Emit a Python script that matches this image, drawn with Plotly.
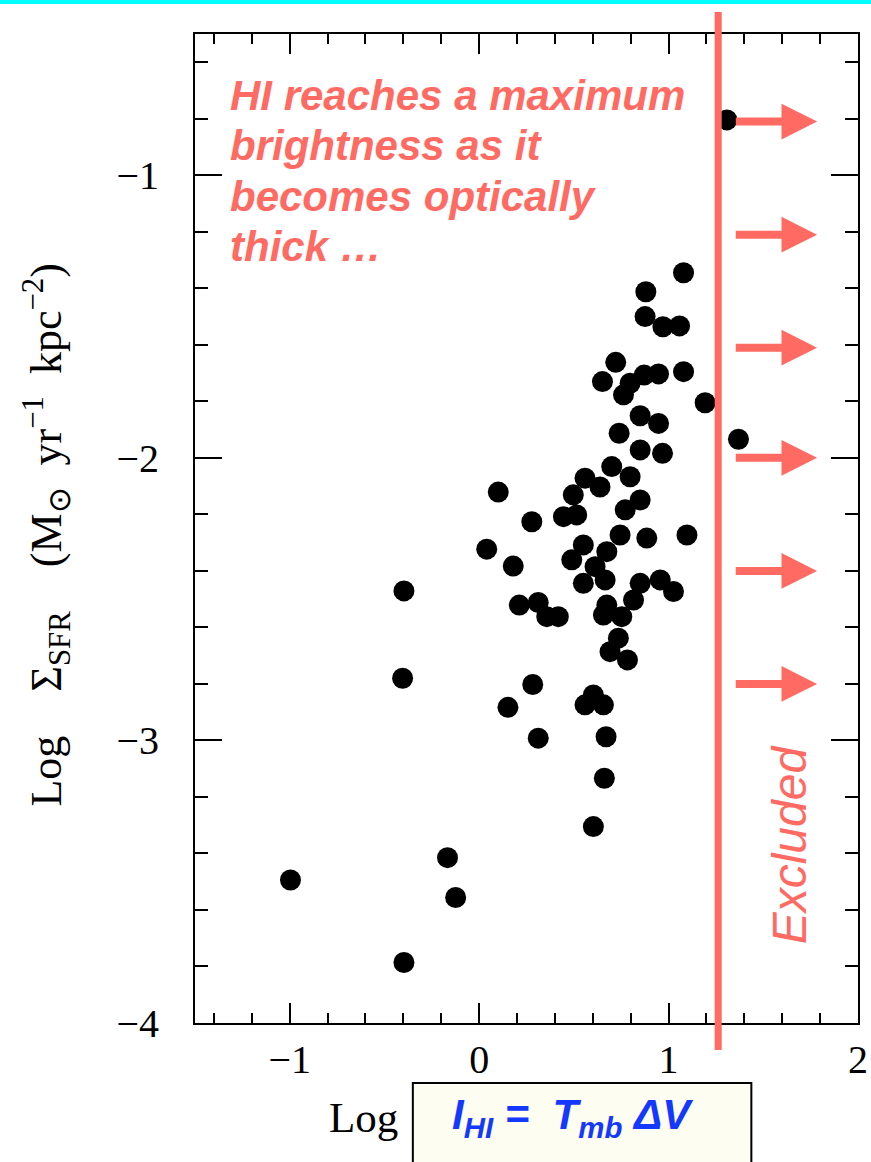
import plotly.graph_objects as go

# Log I_HI (x) and Log Sigma_SFR (y) for each region
log_ihi = [
    1.308, 1.079, 0.880, 0.876, 0.970, 1.058, 0.721, 0.651, 1.079, 0.947,
    0.871, 0.797, 0.762, 1.193, 1.369, 0.850, 0.947, 0.739, 0.850, 0.968,
    0.700, 0.797, 0.559, 0.101, 0.497, 0.638, 0.850, 0.771, 0.445, 0.515,
    0.278, 0.885, 0.744, 1.097, 0.040, 0.180, 0.550, 0.489, 0.674, 0.612,
    0.550, 0.665, 0.850, 0.956, 1.026, 0.815, 0.212, 0.312, 0.357, 0.418,
    0.674, 0.656, 0.753, 0.735, 0.691, 0.783, 0.283, 0.152, 0.559, 0.603,
    0.656, 0.312, 0.670, 0.661, 0.603, -0.397, -0.404, -0.996, -0.167, -0.124,
    -0.397,
]
log_sfr = [
    -0.804, -1.345, -1.412, -1.500, -1.536, -1.533, -1.662, -1.730, -1.695, -1.703,
    -1.707, -1.736, -1.777, -1.805, -1.934, -1.851, -1.878, -1.913, -1.972, -1.984,
    -2.031, -2.067, -2.072, -2.121, -2.131, -2.103, -2.149, -2.184, -2.208, -2.202,
    -2.226, -2.284, -2.273, -2.273, -2.323, -2.383, -2.308, -2.361, -2.332, -2.385,
    -2.444, -2.432, -2.444, -2.432, -2.473, -2.503, -2.521, -2.512, -2.562, -2.562,
    -2.521, -2.556, -2.562, -2.638, -2.686, -2.715, -2.802, -2.883, -2.874, -2.839,
    -2.874, -2.992, -2.987, -3.134, -3.305, -2.471, -2.780, -3.494, -3.415, -3.556,
    -3.786,
]

# optically-thick cut-off and the "excluded" arrows beyond it
cutoff_log_ihi = 1.262
arrow_levels = [-0.81, -1.21, -1.61, -2.00, -2.40, -2.80]
arrow_from, arrow_to = 1.347, 1.784

note_lines = ["HI reaches a maximum", "brightness as it", "becomes optically", "thick \u2026"]

SALMON = "#FF6A62"
BLUE = "#1538FF"
SERIF = "Liberation Serif, Times New Roman, serif"
SANS = "Liberation Sans, Arial, sans-serif"
NB = "\u00a0"

fig = go.Figure()
fig.add_trace(go.Scatter(
    x=log_ihi, y=log_sfr, mode="markers",
    marker=dict(size=21, color="black", line=dict(width=0)),
    showlegend=False, hoverinfo="skip", cliponaxis=False,
))

axis_common = dict(
    showline=True, linecolor="black", linewidth=2, mirror="allticks",
    ticks="inside", tickcolor="black", tickwidth=1.6,
    showgrid=False, zeroline=False, automargin=False,
    tickfont=dict(family=SERIF, size=40, color="black"),
    tickmode="linear", tick0=0, dtick=1,
)
fig.update_xaxes(
    range=[-1.5, 2], ticklen=20, ticklabelstandoff=0,
    minor=dict(tickmode="linear", tick0=0, dtick=0.2, ticks="inside", ticklen=10,
               tickcolor="black", tickwidth=1.6, showgrid=False),
    **axis_common,
)
fig.update_yaxes(
    range=[-4, -0.5], ticklen=27, ticklabelstandoff=26,
    minor=dict(tickmode="linear", tick0=0, dtick=0.2, ticks="inside", ticklen=13,
               tickcolor="black", tickwidth=1.6, showgrid=False),
    **axis_common,
)

shapes = [
    # cyan rule along the top edge
    dict(type="rect", xref="paper", yref="paper", x0=-0.3, x1=1.03, y0=1.0303, y1=1.04,
         fillcolor="#00FFFF", line=dict(width=0), layer="above"),
    # cut-off line
    dict(type="line", xref="x", yref="paper", x0=cutoff_log_ihi, x1=cutoff_log_ihi,
         y0=-0.0273, y1=1.0222, line=dict(color=SALMON, width=7), layer="above"),
    # formula box below the axis
    dict(type="rect", xref="x", yref="paper", x0=-0.350, x1=1.437, y0=-0.0607, y1=-0.2,
         fillcolor="#FDFDF2", line=dict(color="black", width=2), layer="above"),
]

annotations = []
for lvl in arrow_levels:
    annotations.append(dict(
        x=arrow_to, y=lvl, xref="x", yref="y",
        ax=arrow_from, ay=lvl, axref="x", ayref="y",
        text="", showarrow=True, arrowhead=2, arrowwidth=8, arrowsize=0.89,
        arrowcolor=SALMON, standoff=0,
    ))

for i, line in enumerate(note_lines):
    annotations.append(dict(
        x=-1.328, y=-0.717 - i * 0.1787, xref="x", yref="y",
        text=f"<b><i>{line}</i></b>", showarrow=False,
        xanchor="left", yanchor="middle",
        font=dict(family=SANS, size=42, color=SALMON),
    ))

y_title = (
    "Log" + NB * 4 + "\u03a3<sub>SFR</sub>" + NB * 4
    + "(M<sub>\u2299</sub>" + NB * 2 + "yr<sup>\u22121</sup>" + NB * 2
    + "kpc<sup>\u22122</sup>)"
)

annotations += [
    dict(x=1.643, y=-3.37, xref="x", yref="y", text="<i>Excluded</i>", textangle=-90,
         showarrow=False, font=dict(family=SANS, size=48, color=SALMON)),
    dict(x=-0.419, y=-0.0955, xref="x", yref="paper", text="Log", showarrow=False,
         xanchor="right", yanchor="middle", font=dict(family=SERIF, size=43, color="black")),
    dict(x=0.493, y=-0.0955, xref="x", yref="paper",
         text="<b><i>I<sub>HI</sub> =  T<sub>mb</sub> \u0394V</i></b>", showarrow=False,
         xanchor="center", yanchor="middle", font=dict(family=SANS, size=42, color=BLUE)),
    dict(x=-0.223, y=0.493, xref="paper", yref="paper", text=y_title,
         textangle=-90, showarrow=False, xanchor="center", yanchor="middle",
         font=dict(family=SERIF, size=44, color="black")),
]

fig.update_layout(
    width=871, height=1162,
    margin=dict(l=195, r=13, t=34, b=139),
    paper_bgcolor="white", plot_bgcolor="white",
    shapes=shapes, annotations=annotations,
    showlegend=False,
)

fig.write_html("out.html")
